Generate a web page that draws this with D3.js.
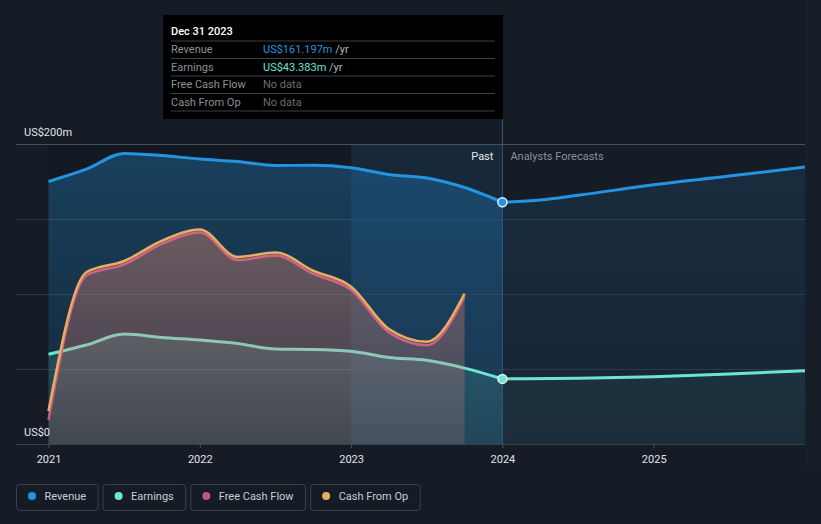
<!DOCTYPE html>
<html>
<head>
<meta charset="utf-8">
<script src="https://cdn.jsdelivr.net/npm/d3@7"></script>
<style>
  html, body { margin: 0; padding: 0; background: #161c26; }
  svg { display: block; font-family: Roboto, "Noto Sans", sans-serif; }
</style>
</head>
<body>
<div id="chart"></div>
<script>
// values in US$m, time as fractional years
const pastDates = [2021, 2021.25, 2021.5, 2021.75, 2022, 2022.25, 2022.5, 2022.75, 2023, 2023.25, 2023.5, 2023.75, 2024];
const revenuePast = [175, 183.2, 193.7, 192.3, 190, 188.3, 185.7, 185.8, 184.2, 179.7, 177.3, 171, 161.2];
const earningsPast = [59.8, 66, 73.3, 71, 69.3, 67, 63.3, 63, 61.8, 57.6, 55.8, 50.6, 43.4];

const cashDates = [2021, 2021.25, 2021.5, 2021.75, 2022, 2022.25, 2022.5, 2022.75, 2023, 2023.25, 2023.5, 2023.75];
const cashFromOp = [22, 114.5, 122, 135.5, 143, 124.7, 127.7, 115.5, 104.9, 76.7, 68.2, 100.3];
const freeCashFlow = [16, 112.3, 119.8, 133.4, 141, 122.6, 125.6, 113.4, 102.8, 74.4, 65.9, 98.3];

const revenueFcDates = [2024, 2024.25, 2024.5, 2025, 2025.5, 2026];
const revenueForecast = [161.2, 162.6, 165.8, 172.8, 178.6, 184.7];
const earningsFcDates = [2024, 2024.5, 2025, 2025.5, 2026];
const earningsForecast = [43.4, 43.9, 44.8, 46.6, 48.9];

const yearTicks = [2021, 2022, 2023, 2024, 2025];
const yTicks = [0, 50, 100, 150, 200];

const colors = { revenue: '#2394df', earnings: '#6ee5d3', fcf: '#c9508a', cfo: '#e8ad60' };

const W = 821, H = 524;
const svg = d3.select('#chart').append('svg').attr('width', W).attr('height', H);

const x = d3.scaleLinear().domain([2021, 2026]).range([48.5, 805]);
const y = d3.scaleLinear().domain([0, 200]).range([444, 144]);
const now = 2024;

// right strip outside the plot
svg.append('rect').attr('x', 805).attr('y', 0).attr('width', W - 805).attr('height', 470).attr('fill', '#181e28');

const defs = svg.append('defs');
function grad(id, color, top, bottom) {
  const g = defs.append('linearGradient').attr('id', id)
    .attr('gradientUnits', 'userSpaceOnUse').attr('x1', 0).attr('x2', 0).attr('y1', 144).attr('y2', 444);
  g.append('stop').attr('offset', 0).attr('stop-color', color).attr('stop-opacity', top);
  g.append('stop').attr('offset', 1).attr('stop-color', color).attr('stop-opacity', bottom);
}
grad('revPast', colors.revenue, 0.32, 0.12);
grad('revFc', colors.revenue, 0.14, 0.06);
grad('earnPast', colors.earnings, 0.26, 0.1);
grad('earnFc', colors.earnings, 0.1, 0.05);
grad('fcfFill', colors.fcf, 0.3, 0.1);
grad('cfoFill', colors.cfo, 0.3, 0.1);

// past shading + highlighted year band
svg.append('rect').attr('x', x(2021)).attr('y', 144).attr('width', x(2023) - x(2021)).attr('height', 300)
  .attr('fill', 'rgba(0,0,0,0.1)');
svg.append('rect').attr('x', x(2023)).attr('y', 144).attr('width', x(now) - x(2023)).attr('height', 300)
  .attr('fill', 'rgba(35,148,223,0.1)');

// gridlines
svg.append('g').selectAll('line').data(yTicks).join('line')
  .attr('x1', 16).attr('x2', 805)
  .attr('y1', d => y(d) + 0.5).attr('y2', d => y(d) + 0.5)
  .attr('stroke', d => d === 200 ? '#4a5059' : (d === 0 ? '#3a404a' : '#2b3440'))
  .attr('stroke-width', 1);

const curve = d3.curveMonotoneX;
const area = d3.area().x(d => x(d[0])).y0(y(0)).y1(d => y(d[1])).curve(curve);
const line = d3.line().x(d => x(d[0])).y(d => y(d[1])).curve(curve);
const zip = (a, b) => a.map((d, i) => [d, b[i]]);

function series(dates, vals, fillId, stroke, width) {
  const data = zip(dates, vals);
  svg.append('path').datum(data).attr('d', area).attr('fill', `url(#${fillId})`);
  svg.append('path').datum(data).attr('d', line).attr('fill', 'none')
    .attr('stroke', stroke).attr('stroke-width', width).attr('stroke-linejoin', 'round');
}

series(pastDates, revenuePast, 'revPast', colors.revenue, 3);
series(revenueFcDates, revenueForecast, 'revFc', colors.revenue, 3);
series(pastDates, earningsPast, 'earnPast', colors.earnings, 3);
series(earningsFcDates, earningsForecast, 'earnFc', colors.earnings, 3);
series(cashDates, freeCashFlow, 'fcfFill', colors.fcf, 2.5);
series(cashDates, cashFromOp, 'cfoFill', colors.cfo, 2.5);

// now line
svg.append('line').attr('x1', x(now)).attr('x2', x(now)).attr('y1', 119).attr('y2', 444)
  .attr('stroke', '#2a5a82').attr('stroke-width', 1);

// dots at now
svg.append('circle').attr('cx', x(now)).attr('cy', y(revenuePast[revenuePast.length - 1])).attr('r', 4.5)
  .attr('fill', colors.revenue).attr('stroke', '#e8eef4').attr('stroke-width', 1.5);
svg.append('circle').attr('cx', x(now)).attr('cy', y(earningsPast[earningsPast.length - 1])).attr('r', 4.5)
  .attr('fill', colors.earnings).attr('stroke', '#e8eef4').attr('stroke-width', 1.5);

// x axis
const xAxis = svg.append('g').attr('transform', 'translate(0,444)')
  .call(d3.axisBottom(x).tickValues(yearTicks).tickFormat(d3.format('d')).tickSize(4).tickPadding(7));
xAxis.select('.domain').remove();
xAxis.selectAll('line').attr('stroke', '#4a5059');
xAxis.selectAll('text').attr('fill', '#e0e3e6').attr('font-size', 11).attr('font-family', 'Roboto');

// y labels
svg.append('text').attr('x', 24).attr('y', 136).attr('fill', '#e0e3e6').attr('font-size', 11).text('US$200m');
svg.append('text').attr('x', 24).attr('y', 436).attr('fill', '#e0e3e6').attr('font-size', 11).text('US$0');

// past / forecast labels
svg.append('text').attr('x', x(now) - 9).attr('y', 160).attr('text-anchor', 'end')
  .attr('fill', '#e6e8ea').attr('font-size', 11).text('Past');
svg.append('text').attr('x', x(now) + 8).attr('y', 160)
  .attr('fill', '#8a9099').attr('font-size', 11).text('Analysts Forecasts');

// tooltip
const tip = svg.append('g');
tip.append('rect').attr('x', 163).attr('y', 15).attr('width', 340).attr('height', 104).attr('fill', '#000');
tip.append('text').attr('x', 171).attr('y', 35).attr('fill', '#fff').attr('font-size', 11).attr('font-weight', 500).text('Dec 31 2023');
const rows = [
  { label: 'Revenue', value: 'US$161.197m', color: colors.revenue, unit: ' /yr' },
  { label: 'Earnings', value: 'US$43.383m', color: colors.earnings, unit: ' /yr' },
  { label: 'Free Cash Flow', value: 'No data', color: '#6a6e74', unit: '' },
  { label: 'Cash From Op', value: 'No data', color: '#6a6e74', unit: '' }
];
const rowLines = [41, 58.5, 76, 93.5, 111];
rowLines.forEach(v => {
  tip.append('line').attr('x1', 171).attr('x2', 495).attr('y1', v).attr('y2', v)
    .attr('stroke', '#3c3f44').attr('stroke-width', 1);
});
rows.forEach((r, i) => {
  const by = 53 + i * 17.5;
  tip.append('text').attr('x', 171).attr('y', by).attr('fill', '#8d9197').attr('font-size', 11).text(r.label);
  const t = tip.append('text').attr('x', 263).attr('y', by).attr('font-size', 11);
  t.append('tspan').attr('fill', r.color).text(r.value);
  if (r.unit) t.append('tspan').attr('fill', '#b3b7bc').text(r.unit);
});

// legend
const legendItems = [
  { name: 'Revenue', color: colors.revenue },
  { name: 'Earnings', color: colors.earnings },
  { name: 'Free Cash Flow', color: colors.fcf },
  { name: 'Cash From Op', color: colors.cfo }
];
let lx = 16.5;
legendItems.forEach(it => {
  const g = svg.append('g');
  const rect = g.append('rect').attr('x', lx).attr('y', 484.5).attr('height', 26).attr('rx', 3)
    .attr('fill', 'none').attr('stroke', '#3a414b');
  g.append('circle').attr('cx', lx + 15.5).attr('cy', 496).attr('r', 4).attr('fill', it.color);
  const t = g.append('text').attr('x', lx + 28).attr('y', 500).attr('fill', '#c9ccd0').attr('font-size', 11).text(it.name);
  const w = 28 + t.node().getComputedTextLength() + 12;
  rect.attr('width', w);
  lx += w + 5;
});
</script>
</body>
</html>
